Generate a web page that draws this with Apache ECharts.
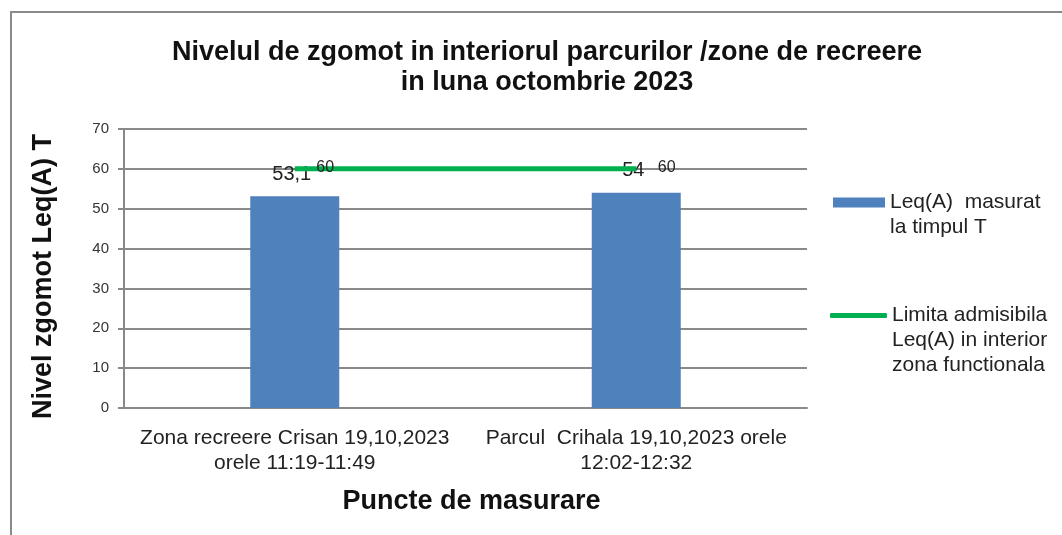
<!DOCTYPE html>
<html>
<head>
<meta charset="utf-8">
<script src="https://cdn.jsdelivr.net/npm/echarts@6/dist/echarts.min.js"></script>
<style>
  html, body { margin: 0; padding: 0; background: #fff; }
  #chart { width: 1062px; height: 535px; }
</style>
</head>
<body>
<div id="chart"></div>
<script>
// date
var categorii = [
    'Zona recreere Crisan 19,10,2023\norele 11:19-11:49',
    'Parcul  Crihala 19,10,2023 orele\n12:02-12:32'
];
var leqMasurat = [53.1, 54];
var limitaAdmisibila = [60, 60];
var numeSerii = [
    'Leq(A)  masurat\nla timpul T',
    'Limita admisibila\nLeq(A) in interior\nzona functionala'
];

var myChart = echarts.init(document.getElementById('chart'));
var grey = '#898989';
var font = '"Liberation Sans", Arial, sans-serif';

var option = {
    backgroundColor: '#fff',
    textStyle: { fontFamily: font, color: '#222' },
    title: {
        text: 'Nivelul de zgomot in interiorul parcurilor /zone de recreere\nin luna octombrie 2023',
        left: 542,
        top: 33,
        textAlign: 'center',
        textStyle: { fontSize: 27, fontWeight: 'bold', color: '#111', lineHeight: 30, fontFamily: font }
    },
    graphic: [{
        type: 'rect',
        shape: { x: 11, y: 12, width: 1100, height: 600 },
        style: { fill: 'none', stroke: '#8a8a8a', lineWidth: 2 },
        silent: true
    }],
    legend: [{
        data: [numeSerii[0]],
        orient: 'vertical',
        left: 833,
        top: 165,
        padding: 0,
        icon: 'rect',
        itemWidth: 52,
        itemHeight: 10,
        itemGap: 0,
        selectedMode: false,
        formatter: function (name) { return '\n' + name; },
        textStyle: { fontSize: 21, color: '#222', lineHeight: 25, fontFamily: font }
    }, {
        data: [numeSerii[1]],
        orient: 'vertical',
        left: 830,
        top: 253,
        padding: 0,
        icon: 'roundRect',
        itemWidth: 57,
        itemHeight: 5,
        selectedMode: false,
        formatter: function (name) { return '\n\n' + name; },
        textStyle: { fontSize: 21, color: '#222', lineHeight: 25, fontFamily: font }
    }],
    grid: { left: 124, right: 255, top: 129, bottom: 127 },
    xAxis: {
        type: 'category',
        data: categorii,
        name: 'Puncte de masurare',
        nameLocation: 'middle',
        nameGap: 80,
        nameTextStyle: { fontSize: 27, fontWeight: 'bold', color: '#111', fontFamily: font, padding: [0, 0, 0, 12] },
        axisLine: { lineStyle: { color: grey, width: 2 } },
        axisTick: { show: false },
        axisLabel: { fontSize: 21, color: '#222', lineHeight: 25, margin: 18, interval: 0, fontFamily: font }
    },
    yAxis: {
        type: 'value',
        min: 0,
        max: 70,
        interval: 10,
        name: 'Nivel zgomot Leq(A) T',
        nameLocation: 'middle',
        nameGap: 67,
        nameTextStyle: { fontSize: 27, fontWeight: 'bold', color: '#111', fontFamily: font, padding: [0, 16, 0, 0] },
        axisLine: { show: true, lineStyle: { color: grey, width: 2 } },
        axisTick: { show: true, length: 6, lineStyle: { color: grey, width: 2 } },
        axisLabel: { fontSize: 15, color: '#333', margin: 15, fontFamily: font },
        splitLine: { lineStyle: { color: grey, width: 2 } }
    },
    series: [{
        name: numeSerii[0],
        type: 'bar',
        data: leqMasurat,
        barWidth: 89,
        itemStyle: { color: '#4f81bd' },
        label: {
            show: true,
            position: 'top',
            distance: 5,
            offset: [-3, -7],
            fontSize: 20,
            color: '#222',
            fontFamily: font,
            formatter: function (p) { return String(p.value).replace('.', ','); }
        }
    }, {
        name: numeSerii[1],
        type: 'line',
        data: limitaAdmisibila,
        symbol: 'circle',
        symbolSize: 1,
        showSymbol: true,
        lineStyle: { color: '#00b050', width: 5 },
        itemStyle: { color: '#00b050' },
        label: {
            show: true,
            position: 'right',
            distance: 21,
            offset: [0, -1],
            fontSize: 16,
            color: '#222',
            fontFamily: font
        }
    }]
};

myChart.setOption(option);
</script>
</body>
</html>
